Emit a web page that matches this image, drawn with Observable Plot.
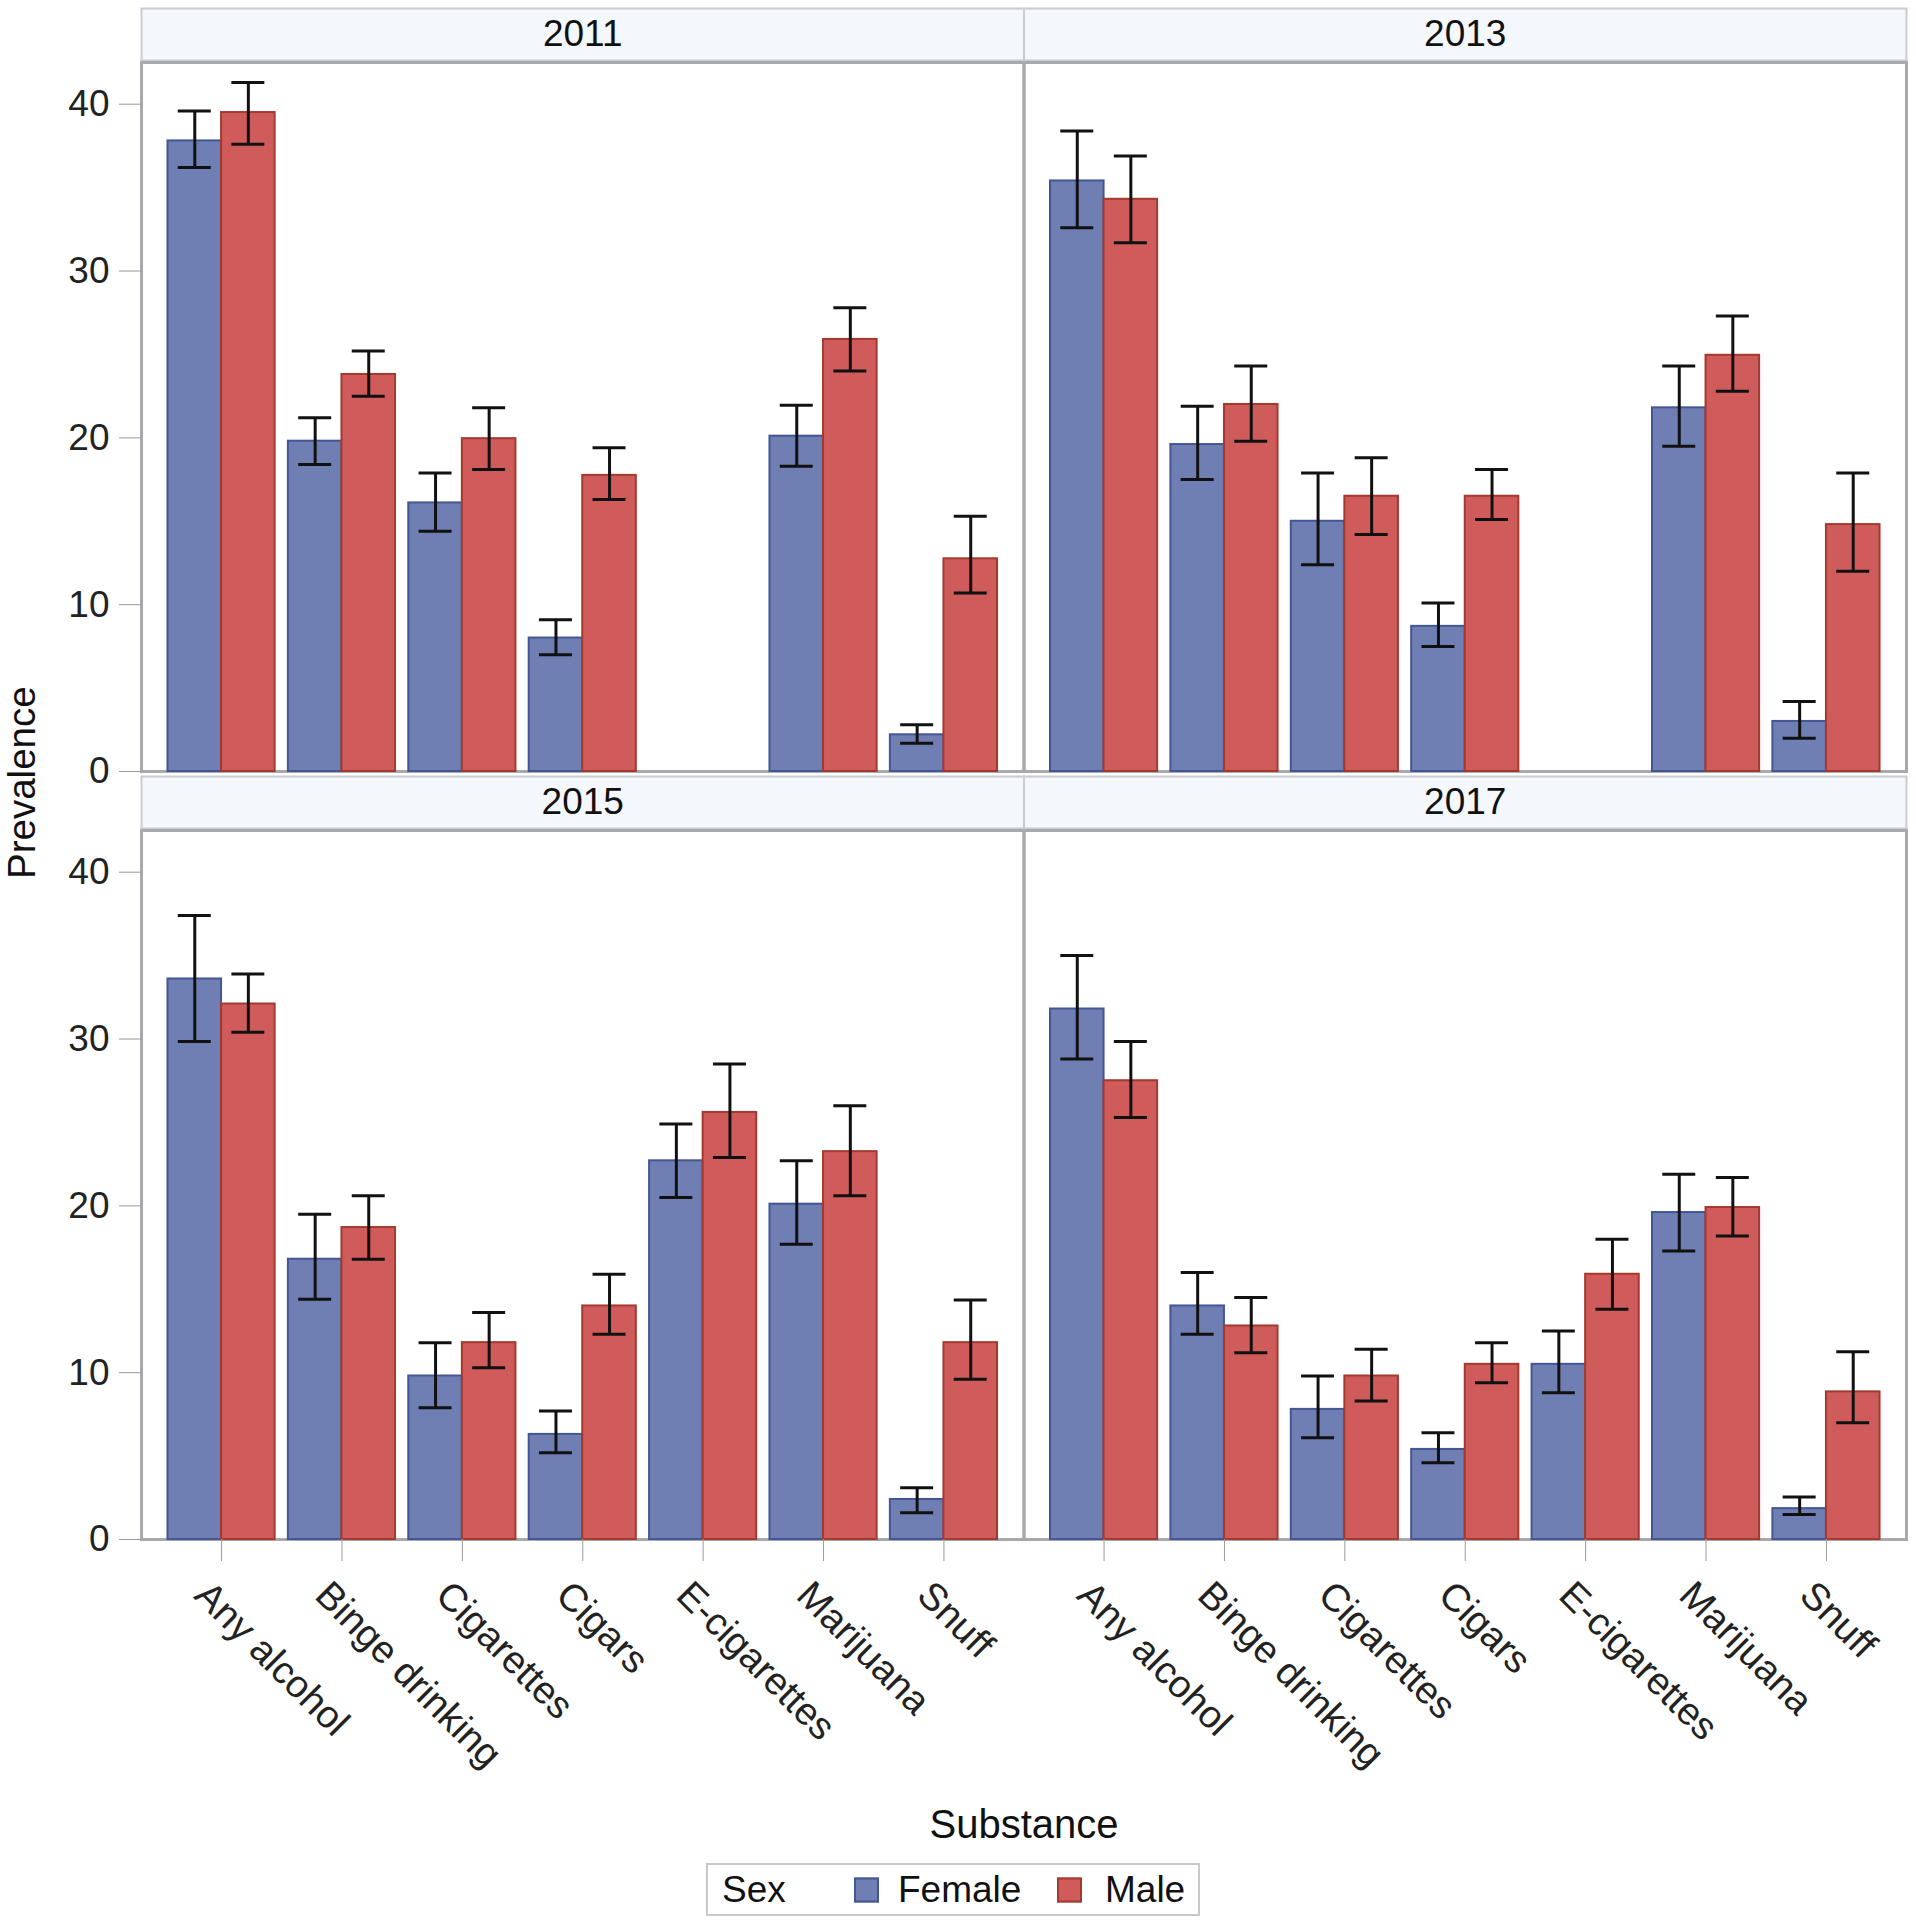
<!DOCTYPE html>
<html><head><meta charset="utf-8">
<script src="https://cdn.jsdelivr.net/npm/d3@7"></script>
<script src="https://cdn.jsdelivr.net/npm/@observablehq/plot@0.6"></script>
<style>
body{margin:0;background:#fff;font-family:"Liberation Sans",Arial,sans-serif;}
#wrap{position:relative;width:1916px;height:1920px;overflow:hidden;}
#legend{position:absolute;left:706px;top:1863px;width:494px;height:53px;border:2px solid #c9c9c9;box-sizing:border-box;font-size:37px;color:#111;}
#legend span{position:absolute;top:50%;transform:translateY(-50%);white-space:nowrap;}
#legend i{position:absolute;top:50%;transform:translateY(-50%);width:25px;height:25px;box-sizing:border-box;border:2px solid;}
</style></head><body><div id="wrap"></div><script>
const years = ["2011", "2013", "2015", "2017"];
const substances = ["Any alcohol", "Binge drinking", "Cigarettes", "Cigars", "E-cigarettes", "Marijuana", "Snuff"];
const sexes = ["Female", "Male"];

// rows: years; columns: substances (null = not surveyed)
const femaleValue = [
  [37.8, 19.8, 16.1, 8.0, null, 20.1, 2.2],
  [35.4, 19.6, 15.0, 8.7, null, 21.8, 3.0],
  [33.6, 16.8, 9.8, 6.3, 22.7, 20.1, 2.4],
  [31.8, 14.0, 7.8, 5.4, 10.5, 19.6, 1.85]
];
const femaleLower = [
  [36.2, 18.4, 14.4, 7.0, null, 18.3, 1.7],
  [32.6, 17.5, 12.4, 7.5, null, 19.5, 2.0],
  [29.85, 14.4, 7.9, 5.2, 20.5, 17.7, 1.6],
  [28.8, 12.3, 6.1, 4.6, 8.8, 17.3, 1.5]
];
const femaleUpper = [
  [39.6, 21.2, 17.9, 9.1, null, 21.95, 2.8],
  [38.4, 21.9, 17.9, 10.1, null, 24.3, 4.2],
  [37.4, 19.5, 11.8, 7.7, 24.9, 22.7, 3.1],
  [35.0, 16.0, 9.8, 6.4, 12.5, 21.9, 2.55]
];
const maleValue = [
  [39.5, 23.8, 19.95, 17.75, null, 25.9, 12.75],
  [34.3, 22.0, 16.5, 16.5, null, 24.95, 14.8],
  [32.1, 18.7, 11.8, 14.0, 25.6, 23.25, 11.8],
  [27.5, 12.8, 9.8, 10.5, 15.9, 19.9, 8.85]
];
const maleLower = [
  [37.6, 22.5, 18.1, 16.3, null, 24.0, 10.7],
  [31.7, 19.8, 14.2, 15.1, null, 22.8, 12.0],
  [30.4, 16.8, 10.3, 12.3, 22.9, 20.6, 9.6],
  [25.3, 11.2, 8.3, 9.4, 13.8, 18.2, 7.0]
];
const maleUpper = [
  [41.3, 25.2, 21.8, 19.4, null, 27.8, 15.3],
  [36.9, 24.3, 18.8, 18.1, null, 27.3, 17.9],
  [33.9, 20.6, 13.6, 15.9, 28.5, 26.0, 14.35],
  [29.85, 14.5, 11.4, 11.8, 18.0, 21.7, 11.25]
];
const yTicks = [0, 10, 20, 30, 40];

const sexFill = {Female: "#6F7EB3", Male: "#D05B5B"};
const sexStroke = {Female: "#445694", Male: "#A23A2E"};

const rows = [];
years.forEach((year, yi) => substances.forEach((substance, si) => {
  [[sexes[0], femaleValue, femaleLower, femaleUpper], [sexes[1], maleValue, maleLower, maleUpper]]
    .forEach(([sex, V, L, U], k) => {
      const value = V[yi][si];
      if (value == null) return;
      rows.push({year, col: yi % 2, row: Math.floor(yi / 2), si, sex, k, value, lower: L[yi][si], upper: U[yi][si]});
    });
}));
const strips = years.map((year, yi) => ({year, col: yi % 2, row: Math.floor(yi / 2)}));

const half = 0.445;   // width of one bar, in category units
const cap = 0.137;    // half width of error bar cap
const x1 = d => d.si + (d.k === 0 ? -half : 0);
const x2 = d => d.si + (d.k === 0 ? 0 : half);
const cx = d => d.si + (d.k === 0 ? -half / 2 : half / 2);

const marginTop = 62, facetH = 709, facetGap = 59, height = 1858;
const marginBottom = height - marginTop - 2 * facetH - facetGap;

const marks = [
  Plot.frame({fill: "#f4f8fd", stroke: "#c8cbcf", strokeWidth: 2, insetTop: -54, insetBottom: facetH + 2}),
  Plot.text(strips, {fx: "col", fy: "row", text: "year", frameAnchor: "top", lineAnchor: "middle", dy: -28, fontSize: 37, fill: "#111"}),
  Plot.frame({stroke: "#a7a9ac", strokeWidth: 3})
];
for (const sex of sexes) {
  const data = rows.filter(d => d.sex === sex);
  marks.push(Plot.rectY(data, {fx: "col", fy: "row", x1, x2, y1: 0, y2: "value", fill: sexFill[sex], stroke: sexStroke[sex], strokeWidth: 2}));
}
marks.push(
  Plot.ruleX(rows, {fx: "col", fy: "row", x: cx, y1: "lower", y2: "upper", stroke: "#111", strokeWidth: 3}),
  Plot.ruleY(rows, {fx: "col", fy: "row", y: "upper", x1: d => cx(d) - cap, x2: d => cx(d) + cap, stroke: "#111", strokeWidth: 3}),
  Plot.ruleY(rows, {fx: "col", fy: "row", y: "lower", x1: d => cx(d) - cap, x2: d => cx(d) + cap, stroke: "#111", strokeWidth: 3}),
  Plot.axisY({ticks: yTicks, tickSize: 22, tickPadding: 10, fontSize: 37, stroke: "#9a9a9a", fill: "#222", label: null}),
  Plot.axisX({ticks: d3.range(substances.length), tickFormat: () => "", tickSize: 22, stroke: "#9a9a9a", label: null}),
  Plot.axisX({ticks: d3.range(substances.length), tickFormat: i => substances[i], tickRotate: 45, tickSize: 0, tickPadding: 32, dx: -20, dy: 17, fontSize: 38.5, fill: "#222", label: null}),
  Plot.text(["Substance"], {facet: "super", frameAnchor: "bottom", dy: 298, fontSize: 40, fill: "#111"}),
  Plot.text(["Prevalence"], {facet: "super", frameAnchor: "left", dx: -119, dy: 78, rotate: -90, fontSize: 38.5, fill: "#111"})
);

const chart = Plot.plot({
  width: 1916, height,
  marginTop, marginLeft: 141, marginRight: 10, marginBottom,
  style: {fontFamily: "'Liberation Sans', Arial, sans-serif", fontSize: "36px", background: "white", color: "#222"},
  fx: {domain: [0, 1], paddingInner: 0, paddingOuter: 0, axis: null, round: false},
  fy: {domain: [0, 1], paddingInner: facetGap / (facetH + facetGap), paddingOuter: 0, axis: null, round: false},
  x: {domain: [-0.665, substances.length - 1 + 0.665]},
  y: {domain: [0, 42.5]},
  marks
});

const wrap = document.getElementById("wrap");
wrap.appendChild(chart);
const legend = document.createElement("div");
legend.id = "legend";
legend.innerHTML = `<span style="left:14px">Sex</span>` +
  `<i style="left:146px;background:${sexFill.Female};border-color:${sexStroke.Female}"></i><span style="left:190px">${sexes[0]}</span>` +
  `<i style="left:349px;background:${sexFill.Male};border-color:${sexStroke.Male}"></i><span style="left:397px">${sexes[1]}</span>`;
wrap.appendChild(legend);
</script></body></html>
